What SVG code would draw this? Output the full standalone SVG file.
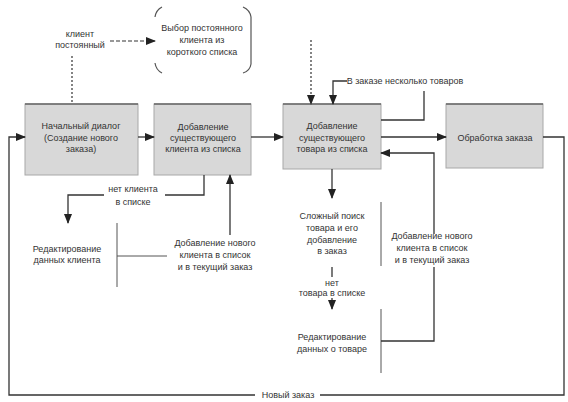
<svg xmlns="http://www.w3.org/2000/svg" width="568" height="402" viewBox="0 0 568 402">
<defs>
<marker id="ah" markerWidth="10" markerHeight="8" refX="9" refY="4" orient="auto" markerUnits="userSpaceOnUse">
<path d="M0,0 L10,4 L0,8 Z" fill="#222"/>
</marker>
<style>
text{font-family:"Liberation Sans",Arial,sans-serif;font-size:9px;fill:#333;text-anchor:middle}
.box{fill:#d8d8d8;stroke:#a8a8a8;stroke-width:1}
.top{stroke:#666;stroke-width:1.5}
.ln{fill:none;stroke:#333;stroke-width:1.3}
.th{fill:none;stroke:#555;stroke-width:1}
.dot{fill:none;stroke:#333;stroke-width:1.2;stroke-dasharray:2 2}
.dash{fill:none;stroke:#333;stroke-width:1.2;stroke-dasharray:4 2}
.br{fill:none;stroke:#555;stroke-width:1.2}
</style>
</defs>
<rect width="568" height="402" fill="#fff"/>

<g id="node-start">
<rect class="box" x="25" y="104" width="113" height="71"/>
<line class="top" x1="25" y1="104" x2="138" y2="104"/>
<text x="81" y="129">Начальный диалог</text>
<text x="81" y="141">(Создание нового</text>
<text x="81" y="152">заказа)</text>
</g>

<g id="node-add-client">
<rect class="box" x="154" y="104" width="97" height="71"/>
<line class="top" x1="154" y1="104" x2="251" y2="104"/>
<text x="203" y="130">Добавление</text>
<text x="203" y="141">существующего</text>
<text x="203" y="152">клиента из списка</text>
</g>

<g id="node-add-goods">
<rect class="box" x="283" y="104" width="98" height="65"/>
<line class="top" x1="283" y1="104" x2="381" y2="104"/>
<text x="332" y="129">Добавление</text>
<text x="332" y="141">существующего</text>
<text x="332" y="152">товара из списка</text>
</g>

<g id="node-process">
<rect class="box" x="446" y="104" width="97" height="64"/>
<line class="top" x1="446" y1="104" x2="543" y2="104"/>
<text x="495" y="141">Обработка заказа</text>
</g>

<g id="node-choose-regular">
<path class="br" d="M162,7 Q156,10 155,17"/>
<path class="br" d="M155,63 Q156,70 162,73"/>
<path class="br" d="M243,7 Q250,10 251,17 L251,64 Q250,71 243,73"/>
<text x="202" y="31">Выбор постоянного</text>
<text x="202" y="43">клиента из</text>
<text x="202" y="55">короткого списка</text>
</g>

<g id="node-edit-client">
<text x="67" y="252">Редактирование</text>
<text x="67" y="263">данных клиента</text>
</g>

<g id="node-complex-search">
<text x="332" y="219">Сложный поиск</text>
<text x="332" y="231">товара и его</text>
<text x="332" y="243">добавление</text>
<text x="332" y="254">в заказ</text>
</g>

<g id="node-edit-goods">
<text x="332" y="340">Редактирование</text>
<text x="332" y="352">данных о товаре</text>
</g>

<g id="connectors">
<!-- regular client -->
<text x="80" y="37">клиент</text>
<text x="80" y="48">постоянный</text>
<line class="dash" x1="110" y1="41" x2="155" y2="41" marker-end="url(#ah)"/>
<line class="dot" x1="72" y1="56" x2="72" y2="104"/>

<!-- main flow -->
<line class="ln" x1="138" y1="137" x2="154" y2="137" marker-end="url(#ah)"/>
<line class="ln" x1="251" y1="137" x2="283" y2="137" marker-end="url(#ah)"/>
<line class="ln" x1="381" y1="137" x2="446" y2="137" marker-end="url(#ah)"/>

<!-- top of goods -->
<line class="dot" x1="311" y1="40" x2="311" y2="104" marker-end="url(#ah)"/>
<path class="ln" d="M347,81 L333,81 L333,104" marker-end="url(#ah)"/>
<text x="405" y="84">В заказе несколько товаров</text>
<path class="ln" d="M381,120 L424,120 L424,91"/>

<!-- new order loop -->
<path class="ln" d="M543,137 L564,137 L564,395 L320,395"/>
<text x="288" y="398">Новый заказ</text>
<path class="ln" d="M255,395 L9,395 L9,137 L25,137" marker-end="url(#ah)"/>

<!-- no client -->
<path class="ln" d="M204,175 L204,195 L165,195"/>
<text x="133" y="192">нет клиента</text>
<text x="133" y="205">в списке</text>
<path class="ln" d="M104,195 L68,195 L68,223" marker-end="url(#ah)"/>

<!-- add new client (left) -->
<line class="ln" x1="230" y1="235" x2="230" y2="175" marker-end="url(#ah)"/>
<text x="215" y="246">Добавление нового</text>
<text x="215" y="258">клиента в список</text>
<text x="215" y="270">и в текущий заказ</text>
<line class="th" x1="117" y1="223" x2="117" y2="287"/>
<line class="th" x1="117" y1="256" x2="167" y2="256"/>

<!-- complex search -->
<line class="ln" x1="332" y1="169" x2="332" y2="198" marker-end="url(#ah)"/>
<line class="th" x1="381" y1="202" x2="381" y2="266"/>
<line class="ln" x1="332" y1="267" x2="332" y2="277"/>
<text x="332" y="286">нет</text>
<text x="332" y="296">товара в списке</text>
<line class="ln" x1="332" y1="298" x2="332" y2="309" marker-end="url(#ah)"/>
<line class="th" x1="381" y1="309" x2="381" y2="373"/>

<!-- add new client (right) -->
<path class="ln" d="M381,341 L434,341 L434,267"/>
<text x="432" y="239">Добавление нового</text>
<text x="432" y="251">клиента в список</text>
<text x="432" y="263">и в текущий заказ</text>
<path class="ln" d="M434,234 L434,153 L381,153" marker-end="url(#ah)"/>
</g>
</svg>
